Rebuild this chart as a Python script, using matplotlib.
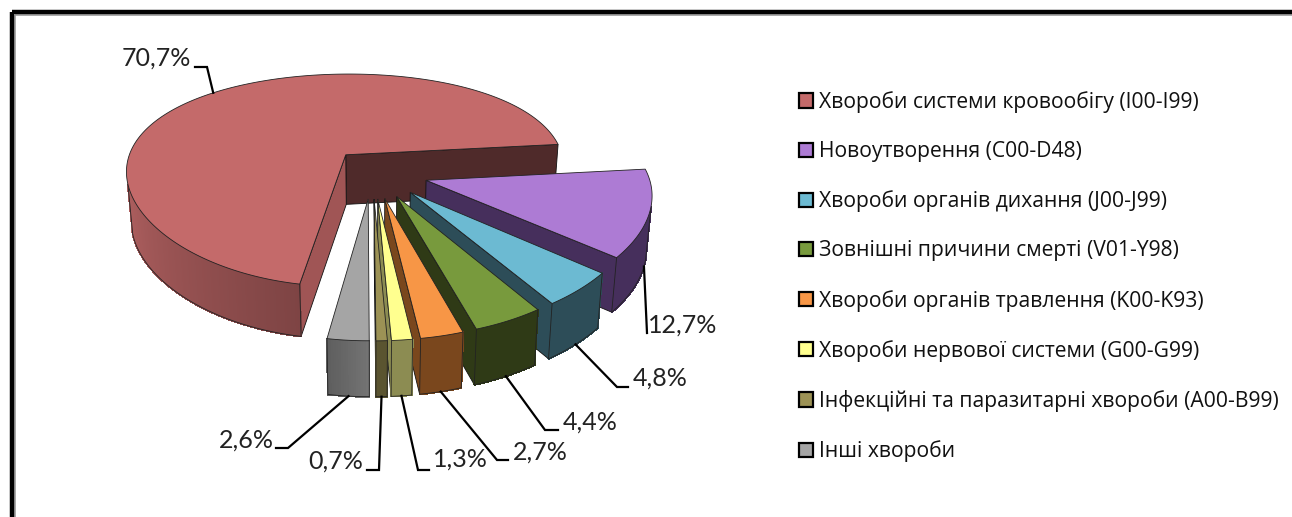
import numpy as np
import matplotlib
matplotlib.use("Agg")
import matplotlib.pyplot as plt
from matplotlib.colors import to_rgb
from matplotlib.patches import Patch, Polygon, Rectangle

causes = [
    "Хвороби системи кровообігу (I00-I99)",
    "Новоутворення (C00-D48)",
    "Хвороби органів дихання (J00-J99)",
    "Зовнішні причини смерті (V01-Y98)",
    "Хвороби органів травлення (K00-K93)",
    "Хвороби нервової системи (G00-G99)",
    "Інфекційні та паразитарні хвороби (A00-B99)",
    "Інші хвороби",
]
shares = [70.7, 12.7, 4.8, 4.4, 2.7, 1.3, 0.7, 2.6]

top_colors = ["#C46A6A", "#AD7BD4", "#6CBAD2", "#789A3D", "#F79646", "#FFFF8F", "#9C9255", "#A5A5A5"]
cut_colors = ["#4F2A2A", "#462F5C", "#2D4D58", "#2F3A16", "#7A471D", "#8C8C52", "#5A5430", "#666666"]
end_colors = ["#A05555", "#462F5C", "#2D4D58", "#2F3A16", "#7A471D", "#8C8C52", "#5A5430", "#666666"]
wall_left = ["#AE5F5F", "#462F5C", "#2D4D58", "#2F3A16", "#7A471D", "#8C8C52", "#5A5430", "#5E5E5E"]
wall_right = ["#7E4444", "#462F5C", "#2D4D58", "#2F3A16", "#7A471D", "#8C8C52", "#5A5430", "#747474"]

# elbow of the leader and where the label goes, same order as shares
elbows = [[(207, 67), (195, 67)], [(647, 333)], [(617, 387), (628, 387)], [(545, 430), (558, 430)],
          [(497, 460), (508, 460)], [(418, 470), (429, 470)], [(379, 470), (367, 470)], [(288, 448), (276, 448)]]
label_pos = [(156, 58), (683, 325), (660, 378), (590, 422), (540, 452), (460, 459), (336, 461), (246, 440)]

# pie geometry in pixels, big slice got its own tilt to sit like the original
cx, cy = 372.5, 173
rx = 222
ry = [109, 104, 104, 104, 104, 104, 104, 104]
persp = [0.25, 0.187, 0.187, 0.187, 0.187, 0.187, 0.187, 0.187]
depth = [50, 53, 53, 53, 53, 53, 53, 53]
explode_x = [0.18, 0.25, 0.25, 0.25, 0.25, 0.25, 0.25, 0.25]
explode_y = 0.24


def project(i, u, v, z=0.0):
    s = 1 / (1 + persp[i] * v)
    x = cx + rx * u * s ** 0.6 * (1 - 0.02 * z)
    y = cy - ry[i] * v * s + z * depth[i] * s ** 0.2
    return x, y


def mix(c1, c2, t):
    c1, c2 = np.array(to_rgb(c1)), np.array(to_rgb(c2))
    return tuple(c1 + (c2 - c1) * t)


def faces_camera(i, u, v, nx, ny):
    return (0 - u) * nx + (-1 / persp[i] - v) * ny > 0


plt.rcParams["font.family"] = ["Open Sans", "DejaVu Sans"]
fig = plt.figure(figsize=(12.92, 5.17), dpi=100)
ax = fig.add_axes([0, 0, 1, 1])
ax.set_xlim(0, 1292)
ax.set_ylim(517, 0)
ax.axis("off")

# outer frame of the pasted chart
ax.add_patch(Rectangle((14.5, 15), 1290, 520, fc="none", ec="#999999", lw=1.2))
ax.add_patch(Rectangle((11.5, 12), 1290, 520, fc="none", ec="black", lw=3.2))

# slices go clockwise from the right edge of the big one, grey edge hangs straight down
sweeps = [s * 3.6 for s in shares]
a = 270 - sweeps[-1] - sweeps[0]
ranges = [(a, a + sweeps[0])]
for sw in sweeps[1:]:
    ranges.append((a - sw, a))
    a -= sw

anchors = []
for i, (a0, a1) in enumerate(ranges):
    mid = np.radians((a0 + a1) / 2)
    ou, ov = explode_x[i] * np.cos(mid), explode_y * np.sin(mid)
    angs = np.radians(np.linspace(a0, a1, max(int(a1 - a0) * 2, 6)))
    rim_u = ou + np.cos(angs)
    rim_v = ov + np.sin(angs)

    # flat cut faces
    for th, sign, col in ((a0, -1, cut_colors[i]), (a1, 1, end_colors[i])):
        t = np.radians(th)
        nx, ny = np.cos(t + sign * np.pi / 2), np.sin(t + sign * np.pi / 2)
        if faces_camera(i, ou, ov, nx, ny):
            eu, ev = ou + np.cos(t), ov + np.sin(t)
            quad = [project(i, ou, ov), project(i, eu, ev), project(i, eu, ev, 1), project(i, ou, ov, 1)]
            ax.add_patch(Polygon(quad, fc=col, ec="#111111", lw=0.6, zorder=2 + i))

    # rim, split in small pieces for the shading
    vis = [j for j in range(len(angs) - 1)
           if faces_camera(i, rim_u[j], rim_v[j], np.cos(angs[j]), np.sin(angs[j]))]
    for n, j in enumerate(vis):
        quad = [project(i, rim_u[j], rim_v[j]), project(i, rim_u[j + 1], rim_v[j + 1]),
                project(i, rim_u[j + 1], rim_v[j + 1], 1), project(i, rim_u[j], rim_v[j], 1)]
        col = mix(wall_left[i], wall_right[i], n / len(vis))
        ax.add_patch(Polygon(quad, fc=col, ec=col, lw=0.8, antialiased=False, zorder=2 + i))
    if vis:
        idx = vis + [vis[-1] + 1]
        low = [project(i, rim_u[j], rim_v[j], 1) for j in idx]
        ax.add_patch(Polygon(low, closed=False, fill=False, ec="#222222", lw=0.6, zorder=2 + i))
        for j in (idx[0], idx[-1]):
            ax.plot(*zip(project(i, rim_u[j], rim_v[j]), project(i, rim_u[j], rim_v[j], 1)),
                    color="#222222", lw=0.6, zorder=2 + i)

    top = [project(i, ou, ov)] + [project(i, u, v) for u, v in zip(rim_u, rim_v)]
    ax.add_patch(Polygon(top, fc=top_colors[i], ec="#222222", lw=0.6, zorder=2 + i))

    # leader starts on the slice itself
    z = 0 if i == 0 else 1
    anchors.append(project(i, ou + np.cos(mid), ov + np.sin(mid), z))

for i, share in enumerate(shares):
    xs, ys = zip(anchors[i], *elbows[i])
    ax.plot(xs, ys, color="black", lw=1.6, zorder=20, solid_joinstyle="miter")
    ax.text(*label_pos[i], f"{share:.1f}%".replace(".", ","), fontsize=18, color="#222222",
            ha="center", va="center", family=["Lato", "Open Sans"], zorder=21)

handles = [Patch(fc=c, ec="black", lw=1.6) for c in top_colors]
ax.legend(handles, causes, loc="upper left", bbox_to_anchor=(799 / 1292, 1 - 91 / 517),
          frameon=False, fontsize=15.2, labelcolor="#111111", handlelength=0.66, handleheight=0.66,
          handletextpad=0.3, labelspacing=1.338, borderpad=0, borderaxespad=0)

fig.savefig("out.png", dpi=100)
